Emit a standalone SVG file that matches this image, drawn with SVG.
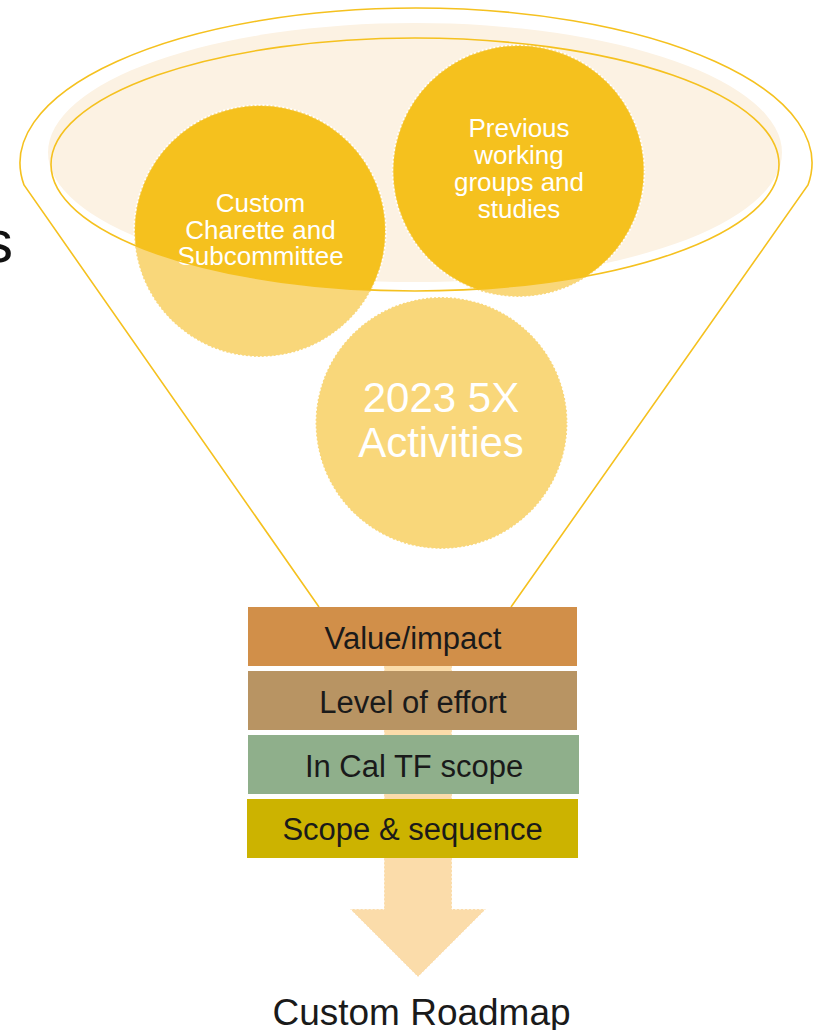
<svg xmlns="http://www.w3.org/2000/svg" width="815" height="1030" viewBox="0 0 815 1030">
<style>
.funnel{fill:none;stroke:#f5c11f;stroke-width:1.6}
.circ{stroke:#ffffff;stroke-width:1.6;stroke-dasharray:2 2}
.light{fill:#f9d77a}
.gold{fill:#f5c11e;stroke:none}
.ct{font-family:"Liberation Sans",Arial,sans-serif;fill:#ffffff;text-anchor:middle}
.bt{font-family:"Liberation Sans",Arial,sans-serif;fill:#1a1a1a;font-size:31px;text-anchor:middle}
</style>
<defs>
<clipPath id="bowl"><ellipse cx="415" cy="164.5" rx="364" ry="126.5"/></clipPath>
</defs>
<rect width="815" height="1030" fill="#ffffff"/>
<text x="-17" y="262" font-family="Liberation Sans, Arial, sans-serif" font-size="60" fill="#111111">s</text>
<g id="funnel">
<path class="funnel" d="M 319 607 L 24 185 A 396 155 0 1 1 808 185 L 511 607"/>
<ellipse cx="415" cy="152.5" rx="367" ry="129.5" fill="#fcf2e3"/>
</g>
<g id="connectors">
<polygon points="384,640 452,640 452,909 486,909 418,977 350,909 384,909" fill="#fbdcaa" stroke="#ffffff" stroke-width="1" stroke-dasharray="2 2"/>
</g>
<g id="node-custom">
<circle class="light circ" cx="260" cy="231" r="126"/>
<circle class="gold" cx="260" cy="231" r="125" clip-path="url(#bowl)"/>
<text class="ct" font-size="26" x="260.5" y="212">Custom</text>
<text class="ct" font-size="26" x="260.5" y="238.5">Charette and</text>
<text class="ct" font-size="26" x="260.5" y="265">Subcommittee</text>
</g>
<g id="node-previous">
<circle class="light circ" cx="518.5" cy="171" r="126"/>
<circle class="gold" cx="518.5" cy="171" r="125" clip-path="url(#bowl)"/>
<text class="ct" font-size="26" x="519" y="137">Previous</text>
<text class="ct" font-size="26" x="519" y="164">working</text>
<text class="ct" font-size="26" x="519" y="191">groups and</text>
<text class="ct" font-size="26" x="519" y="218">studies</text>
</g>
<ellipse class="funnel" cx="415" cy="164.5" rx="364" ry="126.5"/>
<g id="node-2023">
<circle class="light circ" cx="441.5" cy="423" r="126"/>
<text class="ct" font-size="42" x="441" y="412">2023 5X</text>
<text class="ct" font-size="42" x="441" y="457">Activities</text>
</g>
<g id="node-value">
<rect x="248" y="607" width="329" height="59" fill="#d18f49"/>
<text class="bt" x="413" y="649">Value/impact</text>
</g>
<g id="node-effort">
<rect x="248" y="671" width="329" height="59" fill="#b89463"/>
<text class="bt" x="413" y="713">Level of effort</text>
</g>
<g id="node-scope">
<rect x="248" y="735" width="331" height="59" fill="#8faf8b"/>
<text class="bt" x="414" y="777">In Cal TF scope</text>
</g>
<g id="node-sequence">
<rect x="247" y="799" width="331" height="59" fill="#ccb300"/>
<text class="bt" x="412.5" y="840">Scope &amp; sequence</text>
</g>
<g id="node-roadmap">
<text x="421.5" y="1025" font-family="Liberation Sans, Arial, sans-serif" font-size="37" fill="#1a1a1a" text-anchor="middle">Custom Roadmap</text>
</g>
</svg>
